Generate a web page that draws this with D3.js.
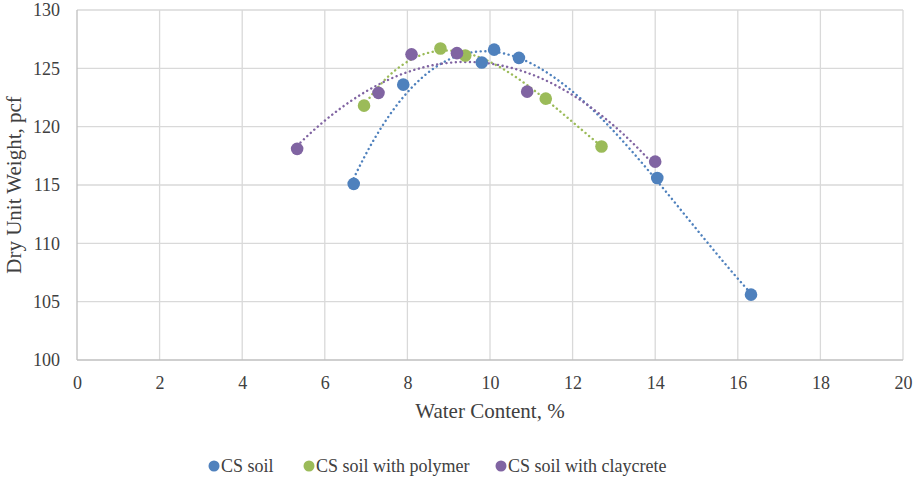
<!DOCTYPE html>
<html><head><meta charset="utf-8">
<script src="https://cdn.jsdelivr.net/npm/d3@7"></script>
<style>body{margin:0;background:#fff;}svg{display:block;} text{font-family:"Liberation Serif","Times New Roman",serif !important;}</style>
</head><body>
<svg id="c" width="917" height="484"></svg>
<script>
const seriesNames = ["CS soil", "CS soil with polymer", "CS soil with claycrete"];
const seriesColors = ["#4F81BD", "#9BBB59", "#8064A2"];
const trendOrders = [3, 3, 2];
const csSoilX = [6.7, 7.9, 9.8, 10.1, 10.7, 14.05, 16.32];
const csSoilY = [115.1, 123.6, 125.5, 126.6, 125.9, 115.6, 105.6];
const polymerX = [6.95, 8.8, 9.4, 11.35, 12.7];
const polymerY = [121.8, 126.7, 126.1, 122.4, 118.3];
const claycreteX = [5.33, 7.3, 8.1, 9.2, 10.9, 14.0];
const claycreteY = [118.1, 122.9, 126.2, 126.3, 123.0, 117.0];
const xTicks = [0, 2, 4, 6, 8, 10, 12, 14, 16, 18, 20];
const yTicks = [100, 105, 110, 115, 120, 125, 130];

const series = [
  {name: seriesNames[0], color: seriesColors[0], order: trendOrders[0], xs: csSoilX, ys: csSoilY},
  {name: seriesNames[1], color: seriesColors[1], order: trendOrders[1], xs: polymerX, ys: polymerY},
  {name: seriesNames[2], color: seriesColors[2], order: trendOrders[2], xs: claycreteX, ys: claycreteY}
];

const svg = d3.select("#c");
const L = 77, R = 903, T = 10, B = 360;
const x = d3.scaleLinear().domain([0, 20]).range([L, R]);
const y = d3.scaleLinear().domain([100, 130]).range([B, T]);

svg.append("g").selectAll("line").data(xTicks.slice(1)).join("line")
  .attr("x1", d => x(d)).attr("x2", d => x(d)).attr("y1", T).attr("y2", B)
  .attr("stroke", "#d9d9d9").attr("stroke-width", 1.3);
svg.append("g").selectAll("line").data(yTicks.slice(1)).join("line")
  .attr("x1", L).attr("x2", R).attr("y1", d => y(d)).attr("y2", d => y(d))
  .attr("stroke", "#d9d9d9").attr("stroke-width", 1.3);
svg.append("line").attr("x1", L).attr("x2", L).attr("y1", T).attr("y2", B).attr("stroke", "#bfbfbf").attr("stroke-width", 1.3);
svg.append("line").attr("x1", L).attr("x2", R).attr("y1", B).attr("y2", B).attr("stroke", "#bfbfbf").attr("stroke-width", 1.3);

const xAxis = svg.append("g").attr("transform", `translate(0,${B})`)
  .call(d3.axisBottom(x).tickValues(xTicks).tickSize(0).tickPadding(16));
const yAxis = svg.append("g").attr("transform", `translate(${L},0)`)
  .call(d3.axisLeft(y).tickValues(yTicks).tickSize(0).tickPadding(17));
[xAxis, yAxis].forEach(a => {
  a.select(".domain").remove();
  a.selectAll("text").attr("font-size", 18).attr("fill", "#404040");
});

svg.append("text").attr("x", (L + R) / 2).attr("y", 418).attr("text-anchor", "middle")
  .attr("font-size", 21).attr("fill", "#404040").text("Water Content, %");
svg.append("text").attr("transform", `translate(21,${(T + B) / 2}) rotate(-90)`).attr("text-anchor", "middle")
  .attr("font-size", 21).attr("fill", "#404040").text("Dry Unit Weight, pcf");

function polyFit(xs, ys, order) {
  const m = order + 1;
  const A = [];
  for (let r = 0; r < m; r++) A.push(new Array(m + 1).fill(0));
  for (let i = 0; i < xs.length; i++) {
    for (let r = 0; r < m; r++) {
      for (let c = 0; c < m; c++) A[r][c] += Math.pow(xs[i], r + c);
      A[r][m] += ys[i] * Math.pow(xs[i], r);
    }
  }
  for (let i = 0; i < m; i++) {
    let p = i;
    for (let j = i + 1; j < m; j++) if (Math.abs(A[j][i]) > Math.abs(A[p][i])) p = j;
    [A[i], A[p]] = [A[p], A[i]];
    for (let j = i + 1; j < m; j++) {
      const f = A[j][i] / A[i][i];
      for (let k = i; k <= m; k++) A[j][k] -= f * A[i][k];
    }
  }
  const c = new Array(m).fill(0);
  for (let i = m - 1; i >= 0; i--) {
    let v = A[i][m];
    for (let k = i + 1; k < m; k++) v -= A[i][k] * c[k];
    c[i] = v / A[i][i];
  }
  return c;
}

const line = d3.line().x(d => x(d[0])).y(d => y(d[1]));
series.forEach(s => {
  const c = polyFit(s.xs, s.ys, s.order);
  const x0 = d3.min(s.xs), x1 = d3.max(s.xs);
  const pts = d3.range(0, 121).map(i => {
    const xv = x0 + (x1 - x0) * i / 120;
    return [xv, c.reduce((acc, ci, k) => acc + ci * Math.pow(xv, k), 0)];
  });
  svg.append("path").attr("d", line(pts)).attr("fill", "none").attr("stroke", s.color)
    .attr("stroke-width", 2.4).attr("stroke-linecap", "round").attr("stroke-dasharray", "0.1 4.6");
});

series.forEach(s => {
  svg.append("g").selectAll("circle").data(s.xs.map((v, i) => [v, s.ys[i]])).join("circle")
    .attr("cx", d => x(d[0])).attr("cy", d => y(d[1])).attr("r", 6.3).attr("fill", s.color);
});

const legendX = [214, 309, 501];
const lg = svg.append("g");
series.forEach((s, i) => {
  lg.append("circle").attr("cx", legendX[i]).attr("cy", 466).attr("r", 5.5).attr("fill", s.color);
  lg.append("text").attr("x", legendX[i] + 7).attr("y", 472).attr("font-size", 18).attr("fill", "#404040").text(s.name);
});
</script>
</body></html>
